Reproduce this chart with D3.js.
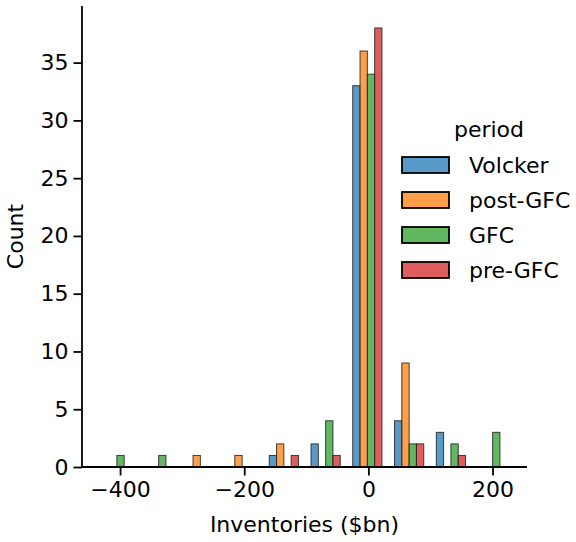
<!DOCTYPE html>
<html>
<head>
<meta charset="utf-8">
<script src="https://cdn.jsdelivr.net/npm/d3@7"></script>
<style>
  body { margin: 0; background: #fff; }
  svg text { font-family: "DejaVu Sans", sans-serif; fill: #000; }
</style>
</head>
<body>
<div id="viz-container"></div>
<script>
// bin left edges ($bn) and counts per period
let binStarts = [-428.7, -361.4, -294.2, -226.9, -159.7, -92.4, -25.2, 42.1, 109.4, 176.6];
let binWidth = 67.26;
let periods = ["Volcker", "post-GFC", "GFC", "pre-GFC"];
let colors = ["#1f77b4", "#ff7f0e", "#2ca02c", "#d62728"];
let volcker = [0, 0, 0, 0, 1, 2, 33, 4, 3, 0];
let postGFC = [0, 0, 1, 1, 2, 0, 36, 9, 0, 0];
let gfc     = [1, 1, 0, 0, 0, 4, 34, 2, 2, 3];
let preGFC  = [0, 0, 0, 0, 1, 1, 38, 2, 1, 0];
let xTicks = [-400, -200, 0, 200];
let yTicks = [0, 5, 10, 15, 20, 25, 30, 35];

let counts = [volcker, postGFC, gfc, preGFC];
let shrink = 0.7;

let W = 576, H = 542;
let margin = {left: 82, right: 49, top: 6, bottom: 75};

let viz = d3.select("#viz-container")
  .append("svg")
    .attr("width", W)
    .attr("height", H)
;

let x = d3.scaleLinear().domain([-461.3, 255.5]).range([margin.left, W - margin.right]);
let y = d3.scaleLinear().domain([0, 39.9]).range([H - margin.bottom, margin.top]);

// build bar records
let bars = [];
periods.forEach(function(p, j){
  counts[j].forEach(function(c, i){
    if (c > 0) {
      let w = binWidth * shrink / periods.length;
      bars.push({x0: binStarts[i] + j * w, x1: binStarts[i] + (j + 1) * w, count: c, color: colors[j]});
    }
  });
});

viz.append("g").selectAll("rect").data(bars).enter()
  .append("rect")
    .attr("x", d => x(d.x0))
    .attr("y", d => y(d.count))
    .attr("width", d => x(d.x1) - x(d.x0))
    .attr("height", d => y(0) - y(d.count))
    .attr("fill", d => d.color)
    .attr("fill-opacity", 0.75)
    .attr("stroke", "#222")
    .attr("stroke-opacity", 0.85)
    .attr("stroke-width", 1)
;

// axes
let xAxis = viz.append("g")
  .attr("transform", "translate(0," + y(0) + ")")
  .call(d3.axisBottom(x).tickValues(xTicks).tickSize(8.5).tickPadding(6).tickFormat(d3.format("")));
let yAxis = viz.append("g")
  .attr("transform", "translate(" + margin.left + ",0)")
  .call(d3.axisLeft(y).tickValues(yTicks).tickSize(8.5).tickPadding(5));

[xAxis, yAxis].forEach(function(a){
  a.select(".domain").attr("stroke", "#000").attr("stroke-width", 1.8);
  a.selectAll(".tick line").attr("stroke", "#000").attr("stroke-width", 1.8);
  a.selectAll(".tick text").attr("font-size", 22).attr("font-family", "DejaVu Sans");
});
xAxis.select(".domain").attr("d", "M" + margin.left + ",0H" + (W - margin.right));
yAxis.select(".domain").attr("d", "M0," + y(0) + "V" + margin.top);
xAxis.selectAll(".tick text").text(d => d < 0 ? "\u2212" + Math.abs(d) : d);

// axis labels
viz.append("text")
  .text("Inventories ($bn)")
    .attr("x", (margin.left + W - margin.right) / 2)
    .attr("y", 532)
    .attr("text-anchor", "middle")
    .attr("font-size", 22)
;
viz.append("text")
  .text("Count")
    .attr("transform", "translate(23," + ((y(0) + margin.top) / 2) + ") rotate(-90)")
    .attr("text-anchor", "middle")
    .attr("font-size", 22)
;

// legend
let legend = viz.append("g").attr("transform", "translate(402,0)");
legend.append("text")
  .text("period")
    .attr("x", 87)
    .attr("y", 137)
    .attr("text-anchor", "middle")
    .attr("font-size", 22)
;
let items = legend.selectAll(".item").data(periods).enter()
  .append("g")
    .attr("class", "item")
    .attr("transform", (d, i) => "translate(0," + (165 + i * 35) + ")")
;
items.append("rect")
  .attr("x", 0)
  .attr("y", -8)
  .attr("width", 47)
  .attr("height", 16)
  .attr("fill", (d, i) => colors[i])
  .attr("fill-opacity", 0.75)
  .attr("stroke", "#000")
  .attr("stroke-width", 1.8)
;
items.append("text")
  .text(d => d)
    .attr("x", 67)
    .attr("y", 8)
    .attr("font-size", 22)
;
</script>
</body>
</html>
